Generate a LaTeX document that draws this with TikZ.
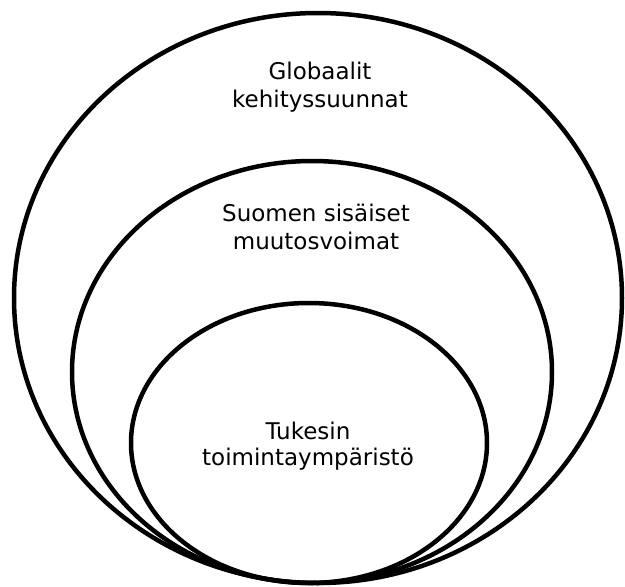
\documentclass[tikz,border=0pt]{standalone}
\usepackage{fontspec}
\setmainfont{DejaVu Sans}

\begin{document}
\begin{tikzpicture}[x=1pt,y=-1pt,
  ring/.style={line width=4.5pt},
  lbl/.style={align=center,font=\fontsize{23}{28.5}\selectfont}]
\useasboundingbox (0,0) rectangle (625,587);

%outer, middle and inner ring, all touching at the bottom
\draw[ring] (318,298) ellipse [x radius=304pt, y radius=285pt];
\draw[ring] (312,372) ellipse [x radius=240pt, y radius=211pt];
\draw[ring] (309,443) ellipse [x radius=178pt, y radius=140pt];

\node[lbl] (global) at (320,87) {Globaalit\\kehityssuunnat};
\node[lbl] (finland) at (316,227) {Suomen sisäiset\\muutosvoimat};
\node[lbl,font=\fontsize{23}{25.5}\selectfont] (tukes) at (308,446) {Tukesin\\toimintaympäristö};

\end{tikzpicture}
\end{document}
